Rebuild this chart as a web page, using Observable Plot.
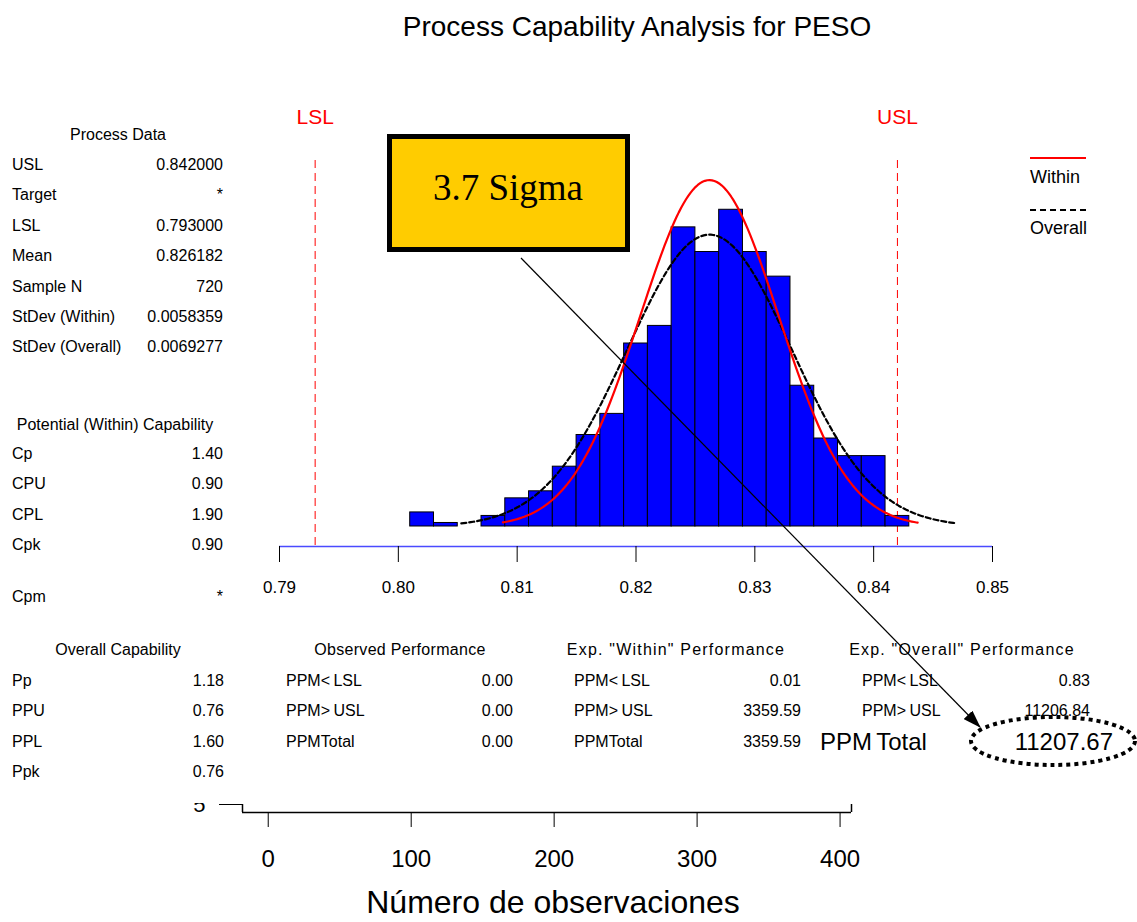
<!DOCTYPE html>
<html>
<head>
<meta charset="utf-8">
<script src="https://cdn.jsdelivr.net/npm/d3@7"></script>
<script src="https://cdn.jsdelivr.net/npm/@observablehq/plot@0.6"></script>
<style>
  body { margin: 0; background: #fff; }
  #page { position: relative; width: 1137px; height: 922px; overflow: hidden;
          font-family: "Liberation Sans", Arial, sans-serif; color: #000; background: #fff; }
  #page > svg { position: absolute; left: 0; }
  .t { position: absolute; white-space: nowrap; line-height: 1; transform: translateY(-50%); }
  .t.r { transform: translate(-100%, -50%); }
  .t.c { transform: translate(-50%, -50%); }
</style>
</head>
<body>
<div id="page"></div>
<script>
// ---- Process data ----
const title = "Process Capability Analysis for PESO";
const LSL = 0.793;
const USL = 0.842;
const mean = 0.826182;
const sampleN = 720;
const sdWithin = 0.0058359;
const sdOverall = 0.0069277;

// Histogram of PESO (bin edges and counts per bin)
const binEdges = [0.801, 0.803, 0.805, 0.807, 0.809, 0.811, 0.813, 0.815, 0.817, 0.819, 0.821,
                  0.823, 0.825, 0.827, 0.829, 0.831, 0.833, 0.835, 0.837, 0.839, 0.841, 0.843];
const binCounts = [4, 1, 0, 3, 8, 10, 17, 26, 32, 52, 57, 85, 78, 90, 78, 71, 40, 25, 20, 20, 3];

// Drawn span of the fitted normal curves
const withinSpan = [0.8088, 0.8437];
const overallSpan = [0.8053, 0.8470];

const xTicks = [0.79, 0.80, 0.81, 0.82, 0.83, 0.84, 0.85];

// Statistics panels
const processLabels = ["USL", "Target", "LSL", "Mean", "Sample N", "StDev (Within)", "StDev (Overall)"];
const processValues = ["0.842000", "*", "0.793000", "0.826182", "720", "0.0058359", "0.0069277"];
const potentialLabels = ["Cp", "CPU", "CPL", "Cpk", "Cpm"];
const potentialValues = ["1.40", "0.90", "1.90", "0.90", "*"];
const overallCapLabels = ["Pp", "PPU", "PPL", "Ppk"];
const overallCapValues = ["1.18", "0.76", "1.60", "0.76"];
const ppmLabels = ["PPM< LSL", "PPM> USL", "PPM Total"];
const observedValues = ["0.00", "0.00", "0.00"];
const expWithinValues = ["0.01", "3359.59", "3359.59"];
const expOverallValues = ["0.83", "11206.84", "11207.67"];
const sigmaLevel = "3.7 Sigma";

// Run-chart axis underneath
const obsExtent = [-18, 408];
const obsTicks = [0, 100, 200, 300, 400];
const obsYTicks = [5];
const obsLabel = "Número de observaciones";

// ---- Derived tables ----
const bins = binCounts.map((c, i) => ({x1: binEdges[i], x2: binEdges[i + 1], count: c}));
const binWidth = binEdges[1] - binEdges[0];
const specLimits = [{name: "LSL", value: LSL}, {name: "USL", value: USL}];

// Normal density scaled to counts per bin
function normalCurve(sd, span) {
  const xs = d3.range(span[0], span[1], 0.0002).concat([span[1]]);
  return xs.map(x => ({
    x,
    y: sampleN * binWidth * Math.exp(-0.5 * ((x - mean) / sd) ** 2) / (sd * Math.sqrt(2 * Math.PI))
  }));
}
const withinCurve = normalCurve(sdWithin, withinSpan);
const overallCurve = normalCurve(sdOverall, overallSpan);

const page = document.getElementById("page");

// ---- Histogram with spec limits ----
const main = Plot.plot({
  width: 1137,
  height: 600,
  marginLeft: 279,
  marginRight: 145,
  marginTop: 160,
  marginBottom: 54,
  style: {fontFamily: "Liberation Sans, Arial, sans-serif", background: "transparent", overflow: "visible"},
  x: {domain: [0.79, 0.85]},
  y: {domain: [0, 104], insetBottom: 20, axis: null},
  marks: [
    Plot.ruleX(specLimits, {x: "value", stroke: "#ff0000", strokeWidth: 1, strokeDasharray: "8,5"}),
    Plot.rectY(bins, {x1: "x1", x2: "x2", y: "count", fill: "#0000ff", stroke: "#000", strokeWidth: 1}),
    Plot.line(overallCurve, {x: "x", y: "y", stroke: "#000", strokeWidth: 2.2, strokeDasharray: "5,3"}),
    Plot.line(withinCurve, {x: "x", y: "y", stroke: "#ff0000", strokeWidth: 2.2}),
    Plot.ruleY([0], {dy: 20, stroke: "#4a4aff", strokeWidth: 1.5}),
    Plot.axisX({ticks: xTicks, tickFormat: d3.format(".2f"), tickSize: 16, tickPadding: 18,
                fontSize: 17, label: null}),
    Plot.text(specLimits, {x: "value", text: "name", frameAnchor: "top", lineAnchor: "middle",
                           dy: -43, fill: "#ff0000", fontSize: 21})
  ]
});
main.style.top = "0px";
page.appendChild(main);

// ---- Observation axis below the tables ----
const obs = Plot.plot({
  width: 1137,
  height: 119,
  marginLeft: 242,
  marginRight: 286,
  marginTop: 1,
  marginBottom: 110,
  style: {fontFamily: "Liberation Sans, Arial, sans-serif", background: "transparent", overflow: "hidden"},
  x: {domain: obsExtent},
  y: {domain: [0, 5]},
  marks: [
    Plot.ruleX(obsExtent, {stroke: "#000", strokeWidth: 1.5}),
    Plot.ruleY([0], {stroke: "#000", strokeWidth: 1.5}),
    Plot.axisY({ticks: obsYTicks, tickFormat: d3.format("d"), tickSize: 23, tickPadding: 14,
                fontSize: 22, label: null}),
    Plot.axisX({ticks: obsTicks, tickFormat: d3.format("d"), tickSize: 15, tickPadding: 22,
                fontSize: 24, label: null})
  ]
});
obs.style.top = "803px";
page.appendChild(obs);

// ---- Text helpers ----
function put(text, x, y, {size = 16, align = "l", color = "#000", font = null, extra = ""} = {}) {
  const el = document.createElement("div");
  el.className = "t" + (align === "r" ? " r" : align === "c" ? " c" : "");
  el.textContent = text;
  el.style.left = x + "px";
  el.style.top = y + "px";
  el.style.fontSize = size + "px";
  el.style.color = color;
  if (font) el.style.fontFamily = font;
  if (extra) el.style.cssText += extra;
  page.appendChild(el);
  return el;
}

put(title, 637, 27, {size: 28, align: "c"});

// Process Data
put("Process Data", 118, 135, {align: "c"});
processLabels.forEach((l, i) => {
  const y = 165 + i * 30.4;
  put(l, 12, y);
  put(processValues[i], 223, y, {align: "r"});
});

// Potential (Within) Capability
put("Potential (Within) Capability", 115, 425, {align: "c"});
const potentialRowY = [454, 484, 515, 545, 597];
potentialLabels.forEach((l, i) => {
  put(l, 12, potentialRowY[i]);
  put(potentialValues[i], 223, potentialRowY[i], {align: "r"});
});

// Overall Capability
put("Overall Capability", 118, 650, {align: "c"});
overallCapLabels.forEach((l, i) => {
  const y = 681 + i * 30.4;
  put(l, 12, y);
  put(overallCapValues[i], 224, y, {align: "r"});
});

// Observed / expected performance
const perfBlocks = [
  {head: "Observed Performance", cx: 400, lx: 286, rx: 513, values: observedValues, track: 0.3},
  {head: "Exp. \"Within\" Performance", cx: 676, lx: 574, rx: 801, values: expWithinValues, track: 1.2},
  {head: "Exp. \"Overall\" Performance", cx: 962, lx: 862, rx: 1090, values: expOverallValues, track: 1.2}
];
perfBlocks.forEach((b, bi) => {
  put(b.head, b.cx, 650, {align: "c", extra: `letter-spacing:${b.track}px;`});
  ppmLabels.forEach((l, i) => {
    const y = 681 + i * 30.4;
    const total = i === 2;
    if (bi === 2 && total) {
      put(l, 820, y, {size: 24, extra: "word-spacing:-2px;"});
      put(b.values[i], 1113, y, {size: 24, align: "r"});
    } else {
      put(l, b.lx, y, {extra: total ? "word-spacing:-4px;" : "word-spacing:-1px;"});
      put(b.values[i], b.rx, y, {align: "r"});
    }
  });
});

// Title of the observation axis, kept inside the bottom edge
const obsTitle = document.createElement("div");
obsTitle.textContent = obsLabel;
obsTitle.style.cssText = "position:absolute;left:553px;top:885px;transform:translateX(-50%);" +
  "font-size:32px;line-height:1.1;white-space:nowrap;";
page.appendChild(obsTitle);

// Legend
const legendLine = (y, style) => {
  const el = document.createElement("div");
  el.style.cssText = `position:absolute;left:1030px;top:${y}px;width:56px;height:0;${style}`;
  page.appendChild(el);
};
legendLine(157, "border-top:2px solid #ff0000;");
put("Within", 1030, 177, {size: 18});
legendLine(209, "border-top:2px dashed #000;");
put("Overall", 1030, 228, {size: 18});

// ---- Callout: sigma box, arrow and highlighted total ----
const note = d3.create("svg")
  .attr("width", 1137).attr("height", 922)
  .style("position", "absolute").style("top", "0px").style("left", "0px")
  .style("pointer-events", "none");
note.append("defs").append("marker")
  .attr("id", "head").attr("markerUnits", "userSpaceOnUse")
  .attr("markerWidth", 18).attr("markerHeight", 12)
  .attr("refX", 17).attr("refY", 6).attr("orient", "auto")
  .append("path").attr("d", "M0,0 L18,6 L0,12 Z").attr("fill", "#000");
note.append("rect")
  .attr("x", 389.5).attr("y", 136.5).attr("width", 238).attr("height", 113)
  .attr("fill", "#ffcc00").attr("stroke", "#000").attr("stroke-width", 5);
note.append("text")
  .attr("x", 508).attr("y", 200)
  .attr("text-anchor", "middle")
  .attr("font-family", "Liberation Serif, Times New Roman, serif")
  .attr("font-size", 37)
  .text(sigmaLevel);
note.append("line")
  .attr("x1", 521).attr("y1", 258).attr("x2", 980).attr("y2", 727)
  .attr("stroke", "#000").attr("stroke-width", 1.2)
  .attr("marker-end", "url(#head)");
note.append("ellipse")
  .attr("cx", 1053).attr("cy", 741).attr("rx", 82).attr("ry", 24)
  .attr("fill", "none").attr("stroke", "#000").attr("stroke-width", 4)
  .attr("stroke-dasharray", "4,4");
page.appendChild(note.node());
</script>
</body>
</html>
